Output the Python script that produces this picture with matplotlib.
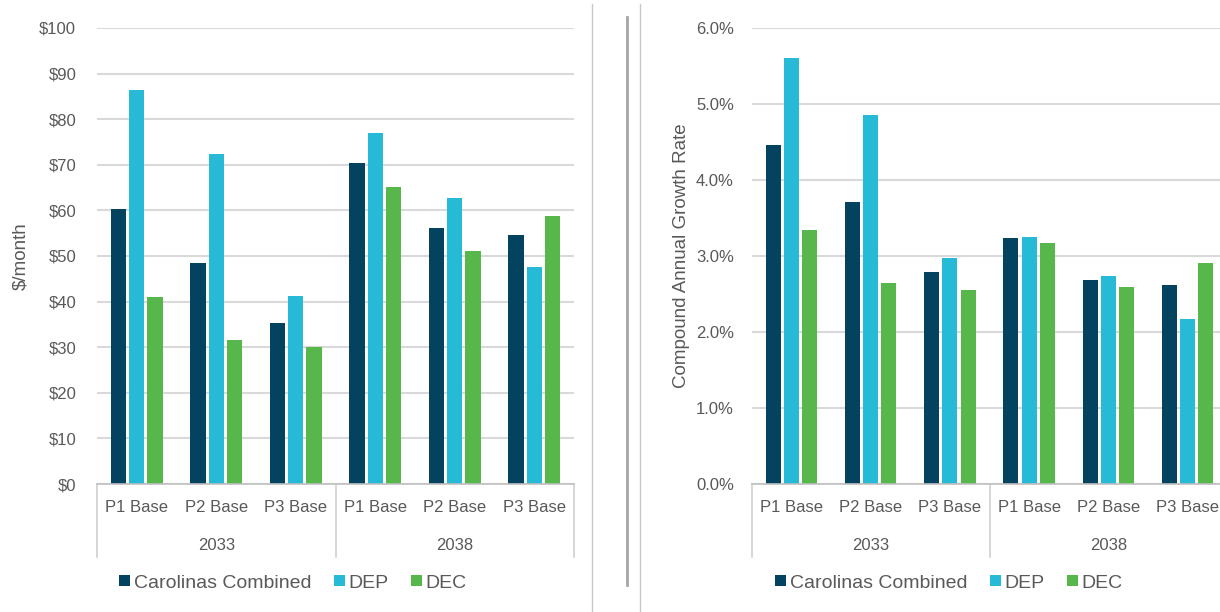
import numpy as np
import matplotlib.pyplot as plt
from matplotlib.lines import Line2D
from matplotlib.transforms import blended_transform_factory
from matplotlib.ticker import FuncFormatter

# данные
scenarios = ["P1 Base", "P2 Base", "P3 Base", "P1 Base", "P2 Base", "P3 Base"]
years = ["2033", "2038"]
series_names = ["Carolinas Combined", "DEP", "DEC"]
colors = ["#034360", "#27BAD7", "#57B74B"]

bill_cc = [60.2, 48.5, 35.2, 70.5, 56.1, 54.7]
bill_dep = [86.4, 72.3, 41.2, 76.9, 62.7, 47.6]
bill_dec = [40.9, 31.5, 30.1, 65.1, 51.2, 58.8]

cagr_cc = [4.46, 3.71, 2.79, 3.24, 2.68, 2.62]
cagr_dep = [5.61, 4.85, 2.98, 3.25, 2.74, 2.17]
cagr_dec = [3.34, 2.64, 2.55, 3.17, 2.59, 2.91]

W, H = 1220, 612
narrow = ["Liberation Sans Narrow", "Liberation Sans", "DejaVu Sans"]
regular = ["Liberation Sans", "DejaVu Sans"]
tick_gray = "#595959"
grid_gray = "#D9D9D9"
narrow_size = 12


def fx(px):
    return px / W


def fy(py):
    return 1 - py / H


def draw_panel(fig, left_px, right_px, data, ylim, yticks, fmt, ylabel,
               ylabel_x, legend_cx, ypad):
    ax = fig.add_axes([fx(left_px), fy(484), fx(right_px - left_px),
                       (484 - 28) / H])
    x = np.arange(len(scenarios))
    width = 0.19
    offsets = [-0.23, 0, 0.23]
    for vals, off, col, name in zip(data, offsets, colors, series_names):
        ax.bar(x + off, vals, width, color=col, label=name, zorder=3)

    ax.set_xlim(-0.5, len(scenarios) - 0.5)
    ax.set_ylim(*ylim)
    ax.set_yticks(yticks)
    ax.yaxis.set_major_formatter(FuncFormatter(fmt))
    ax.grid(axis="y", color=grid_gray, linewidth=1.5, zorder=0)
    for s in ["top", "right", "left"]:
        ax.spines[s].set_visible(False)
    ax.spines["bottom"].set_color("#BFBFBF")
    ax.spines["bottom"].set_linewidth(1.2)
    ax.spines["bottom"].set_zorder(4)
    ax.tick_params(axis="both", length=0)
    ax.tick_params(axis="y", pad=ypad)
    ax.set_xticks([])
    for lab in ax.get_yticklabels():
        lab.set_family(narrow)
        lab.set_fontsize(narrow_size)
        lab.set_color(tick_gray)

    # подписи оси x в два уровня
    tr = blended_transform_factory(ax.transData, fig.transFigure)
    for i, s in enumerate(scenarios):
        ax.text(i, fy(508), s, transform=tr, ha="center", va="center",
                family=narrow, fontsize=narrow_size, color=tick_gray,
                clip_on=False)
    for j, yr in enumerate(years):
        ax.text(3 * j + 1, fy(545), yr, transform=tr, ha="center",
                va="center", family=narrow, fontsize=narrow_size,
                color=tick_gray, clip_on=False)
    for xb in [-0.5, 2.5, 5.5]:
        ax.add_line(Line2D([xb, xb], [fy(484), fy(557)], transform=tr,
                           color="#D0D0D0", linewidth=1.2, clip_on=False))

    fig.text(fx(ylabel_x), fy(256), ylabel, rotation=90, ha="center",
             va="center", family=regular, fontsize=13.5, color=tick_gray)

    fig.legend(*ax.get_legend_handles_labels(), loc="center",
               bbox_to_anchor=(fx(legend_cx), fy(583)), ncol=3,
               frameon=False, handlelength=0.55, handleheight=0.55,
               handletextpad=0.2, columnspacing=1.15,
               prop={"family": regular, "size": 14}, labelcolor=tick_gray)
    return ax


fig = plt.figure(figsize=(W / 100, H / 100), dpi=100)

draw_panel(fig, 97, 574, [bill_cc, bill_dep, bill_dec], (0, 100),
           range(0, 101, 10), lambda v, p: f"${v:.0f}", "$/month", 21, 293,
           15)

draw_panel(fig, 752, 1227, [cagr_cc, cagr_dep, cagr_dec], (0, 6),
           range(0, 7), lambda v, p: f"{v:.1f}%",
           "Compound Annual Growth Rate", 682, 949, 13)

# разделители слайда
fig.add_artist(Line2D([fx(592), fx(592)], [fy(4), fy(612)],
                      transform=fig.transFigure, color="#C8C8C8", lw=1.0))
fig.add_artist(Line2D([fx(640), fx(640)], [fy(4), fy(612)],
                      transform=fig.transFigure, color="#C8C8C8", lw=1.0))
fig.add_artist(Line2D([fx(627), fx(627)], [fy(17), fy(585)],
                      transform=fig.transFigure, color="#A6A6A6", lw=2.0))

fig.savefig("out.png", dpi=100)
